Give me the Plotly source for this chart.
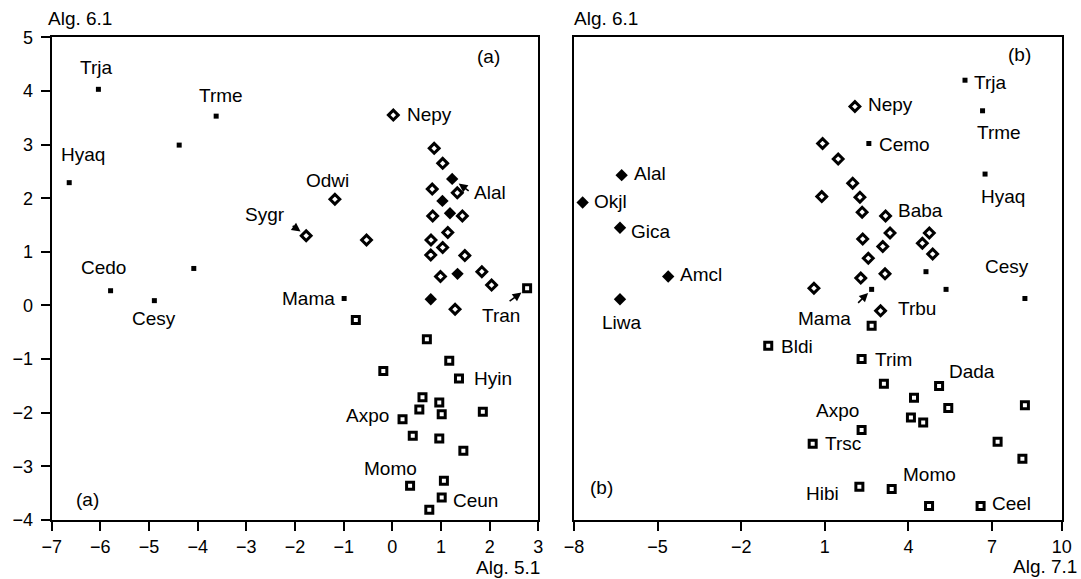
import plotly.graph_objects as go

# ---------------- data: panel (a)  Alg. 5.1 (x) vs Alg. 6.1 (y) ----------------
a_dot_x = [-6.04, -3.62, -4.38, -6.64, -4.08, -5.79, -4.89, -0.99]
a_dot_y = [4.03, 3.53, 2.99, 2.29, 0.69, 0.275, 0.09, 0.13]
a_dot_n = ["Trja", "Trme", "", "Hyaq", "", "Cedo", "Cesy", "Mama"]

a_odia_x = [0.02, -1.18, -1.77, -0.53, 0.86, 1.035, 0.82, 1.335, 0.83, 1.44, 1.14, 0.795,
            1.035, 0.79, 1.49, 0.99, 1.84, 2.04, 1.29]
a_odia_y = [3.55, 1.98, 1.30, 1.22, 2.93, 2.65, 2.17, 2.10, 1.67, 1.67, 1.36, 1.22,
            1.08, 0.94, 0.93, 0.54, 0.63, 0.38, -0.07]
a_odia_n = ["Nepy", "Odwi", "Sygr"] + [""] * 16

a_fdia_x = [1.23, 1.03, 1.185, 1.34, 0.79]
a_fdia_y = [2.36, 1.95, 1.72, 0.59, 0.115]
a_fdia_n = ["Alal", "", "", "", ""]

a_osq_x = [2.77, -0.75, 0.71, 1.17, -0.185, 1.37, 0.62, 0.965, 0.555, 1.015, 1.86, 0.21,
           0.42, 0.965, 1.46, 1.06, 0.365, 1.015, 0.76]
a_osq_y = [0.32, -0.27, -0.63, -1.03, -1.22, -1.36, -1.71, -1.81, -1.94, -2.03, -1.98, -2.12,
           -2.43, -2.48, -2.71, -3.27, -3.36, -3.58, -3.81]
a_osq_n = ["Tran", "", "", "", "", "Hyin", "", "", "", "", "", "Axpo",
           "", "", "", "", "Momo", "Ceun", ""]

# ---------------- data: panel (b)  Alg. 7.1 (x) vs Alg. 6.1 (y) ----------------
b_dot_x = [6.03, 6.66, 2.58, 6.75, 4.63, 2.68, 5.35, 8.18]
b_dot_y = [4.20, 3.63, 3.02, 2.45, 0.63, 0.30, 0.30, 0.13]
b_dot_n = ["Trja", "Trme", "Cemo", "Hyaq", "", "Mama", "", "Cesy"]

b_odia_x = [2.08, 0.92, 1.48, 2.0, 0.89, 2.26, 2.34, 3.18, 3.34, 2.36, 3.08, 4.75,
            4.50, 4.87, 2.56, 3.16, 2.29, 0.61, 3.0]
b_odia_y = [3.71, 3.02, 2.73, 2.28, 2.03, 2.02, 1.74, 1.67, 1.35, 1.24, 1.10, 1.35,
            1.16, 0.96, 0.88, 0.59, 0.51, 0.32, -0.10]
b_odia_n = ["Nepy", "", "", "", "", "", "", "Baba", "", "", "", "",
            "", "", "", "", "", "", "Trbu"]

b_fdia_x = [-6.29, -7.69, -6.35, -4.62, -6.35]
b_fdia_y = [2.43, 1.92, 1.45, 0.54, 0.115]
b_fdia_n = ["Alal", "Okjl", "Gica", "Amcl", "Liwa"]

b_osq_x = [2.68, -1.03, 2.32, 3.12, 5.10, 4.2, 5.43, 8.18, 4.09, 4.53, 2.32, 0.565,
           7.20, 8.09, 2.24, 3.40, 4.74, 6.59]
b_osq_y = [-0.38, -0.75, -1.0, -1.46, -1.50, -1.72, -1.91, -1.86, -2.09, -2.18, -2.32, -2.58,
           -2.54, -2.86, -3.38, -3.42, -3.74, -3.74]
b_osq_n = ["", "Bldi", "Trim", "", "Dada", "", "", "", "", "", "Axpo", "Trsc",
           "", "", "Hibi", "Momo", "", "Ceel"]

a_xticks = [-7, -6, -5, -4, -3, -2, -1, 0, 1, 2, 3]
y_ticks = [-4, -3, -2, -1, 0, 1, 2, 3, 4, 5]
b_xticks = [-8, -5, -2, 1, 4, 7, 9.5]
b_xtick_text = ["\u22128", "\u22125", "\u22122", "1", "4", "7", "10"]

# ---------------- label placement (style) ----------------
# (xanchor, xshift, yshift) in pixels relative to the point
lab_a = {
    "Trja": ("center", -2, 22), "Trme": ("center", 5, 21), "Hyaq": ("center", 14, 28),
    "Cedo": ("center", -7, 23), "Cesy": ("center", 0, -18), "Mama": ("right", -7, 0),
    "Sygr": ("right", -19, 21), "Nepy": ("left", 12, 1), "Odwi": ("center", -7, 19),
    "Alal": ("left", 20, -14), "Tran": ("center", -26, -27), "Hyin": ("left", 13, 0),
    "Axpo": ("right", -12, 4), "Momo": ("center", -20, 17), "Ceun": ("left", 9, -3),
}
lab_b = {
    "Alal": ("left", 10, 2), "Okjl": ("left", 9, 1), "Gica": ("left", 9, -4),
    "Amcl": ("left", 10, 2), "Liwa": ("center", 2, -23), "Nepy": ("left", 11, 2),
    "Cemo": ("left", 8, -1), "Baba": ("left", 10, 5), "Trbu": ("left", 15, 2),
    "Trja": ("left", 7, -2), "Trme": ("center", 16, -22), "Hyaq": ("center", 18, -22),
    "Cesy": ("center", -18, 32), "Mama": ("right", -19, -29), "Bldi": ("left", 11, -1),
    "Trim": ("left", 11, 0), "Dada": ("center", 33, 14), "Axpo": ("center", -24, 19),
    "Trsc": ("left", 10, 0), "Hibi": ("right", -18, -7), "Momo": ("center", 38, 14),
    "Ceel": ("left", 9, 3),
}
# arrows: (ax, ay, standoff)
arr_a = {"Sygr": (-15, -11, 7), "Alal": (18, 13, 8), "Tran": (-19, 14, 7)}
arr_b = {"Mama": (-15, 15, 5)}

FONT = "Liberation Sans, Arial, Helvetica, sans-serif"
fig = go.Figure()

dot_m = dict(symbol="square", size=5, color="black", line=dict(width=0))
odia_m = dict(symbol="diamond", size=7.5, color="white", line=dict(color="black", width=3))
fdia_m = dict(symbol="diamond", size=9.5, color="black", line=dict(width=0))
osq_m = dict(symbol="square", size=7, color="white", line=dict(color="black", width=3))

for xs, ys, m, xa, ya in [
    (a_dot_x, a_dot_y, dot_m, "x", "y"), (a_odia_x, a_odia_y, odia_m, "x", "y"),
    (a_fdia_x, a_fdia_y, fdia_m, "x", "y"), (a_osq_x, a_osq_y, osq_m, "x", "y"),
    (b_dot_x, b_dot_y, dot_m, "x2", "y2"), (b_odia_x, b_odia_y, odia_m, "x2", "y2"),
    (b_fdia_x, b_fdia_y, fdia_m, "x2", "y2"), (b_osq_x, b_osq_y, osq_m, "x2", "y2"),
]:
    fig.add_trace(go.Scatter(x=xs, y=ys, mode="markers", marker=m, xaxis=xa, yaxis=ya,
                             showlegend=False, hoverinfo="skip", cliponaxis=False))

annotations = []


def add_labels(xs, ys, names, labs, arrs, xr, yr):
    for x, y, n in zip(xs, ys, names):
        if not n:
            continue
        xan, xsh, ysh = labs[n]
        annotations.append(dict(x=x, y=y, xref=xr, yref=yr, text=n, showarrow=False,
                                xanchor=xan, yanchor="middle", xshift=xsh, yshift=ysh,
                                font=dict(family=FONT, size=19, color="black")))
        if n in arrs:
            ax, ay, so = arrs[n]
            annotations.append(dict(x=x, y=y, xref=xr, yref=yr, text="", showarrow=True,
                                    ax=ax, ay=ay, axref="pixel", ayref="pixel",
                                    arrowhead=2, arrowsize=1.1, arrowwidth=1.6,
                                    arrowcolor="black", standoff=so))


add_labels(a_dot_x, a_dot_y, a_dot_n, lab_a, arr_a, "x", "y")
add_labels(a_odia_x, a_odia_y, a_odia_n, lab_a, arr_a, "x", "y")
add_labels(a_fdia_x, a_fdia_y, a_fdia_n, lab_a, arr_a, "x", "y")
add_labels(a_osq_x, a_osq_y, a_osq_n, lab_a, arr_a, "x", "y")
add_labels(b_dot_x, b_dot_y, b_dot_n, lab_b, arr_b, "x2", "y2")
add_labels(b_odia_x, b_odia_y, b_odia_n, lab_b, arr_b, "x2", "y2")
add_labels(b_fdia_x, b_fdia_y, b_fdia_n, lab_b, arr_b, "x2", "y2")
add_labels(b_osq_x, b_osq_y, b_osq_n, lab_b, arr_b, "x2", "y2")

W, H = 1081, 579


def paper_text(txt, px, py, xan, size=19):
    annotations.append(dict(x=px / W, y=1 - py / H, xref="paper", yref="paper", text=txt,
                            showarrow=False, xanchor=xan, yanchor="middle",
                            font=dict(family=FONT, size=size, color="black")))


paper_text("Alg. 6.1", 46, 19, "left")
paper_text("Alg. 5.1", 542, 567, "right")
paper_text("Alg. 6.1", 572, 19, "left")
paper_text("Alg. 7.1", 1079, 566, "right")
paper_text("(a)", 488, 56, "center")
paper_text("(a)", 87, 499, "center")
paper_text("(b)", 1019.5, 55, "center")
paper_text("(b)", 601.5, 487, "center")

axis_common = dict(showgrid=False, zeroline=False, showline=True, linecolor="black",
                   linewidth=2.2, mirror=True, ticks="outside", ticklen=9, tickwidth=2,
                   tickcolor="black", automargin=False,
                   tickfont=dict(family=FONT, size=18, color="black"))

y_dom = [(H - 520) / H, (H - 37.3) / H]
fig.update_layout(
    width=W, height=H, margin=dict(l=0, r=0, t=0, b=0, autoexpand=False),
    paper_bgcolor="white", plot_bgcolor="white",
    xaxis=dict(domain=[51.7 / W, 538.3 / W], range=[-7, 3], tickvals=a_xticks,
               anchor="y", **axis_common),
    yaxis=dict(domain=y_dom, range=[-4, 5], tickvals=y_ticks, anchor="x",
               ticklabelstandoff=4, **axis_common),
    xaxis2=dict(domain=[574 / W, 1061.7 / W], range=[-8, 9.5], tickvals=b_xticks,
                ticktext=b_xtick_text, anchor="y2", **axis_common),
    yaxis2=dict(domain=y_dom, range=[-4, 5], anchor="x2", showticklabels=False,
                **{**axis_common, "ticks": ""}),
    annotations=annotations,
)

fig.write_html("out.html", config={"displayModeBar": False},
               post_script="document.body.style.margin='0';document.body.style.padding='0';")
